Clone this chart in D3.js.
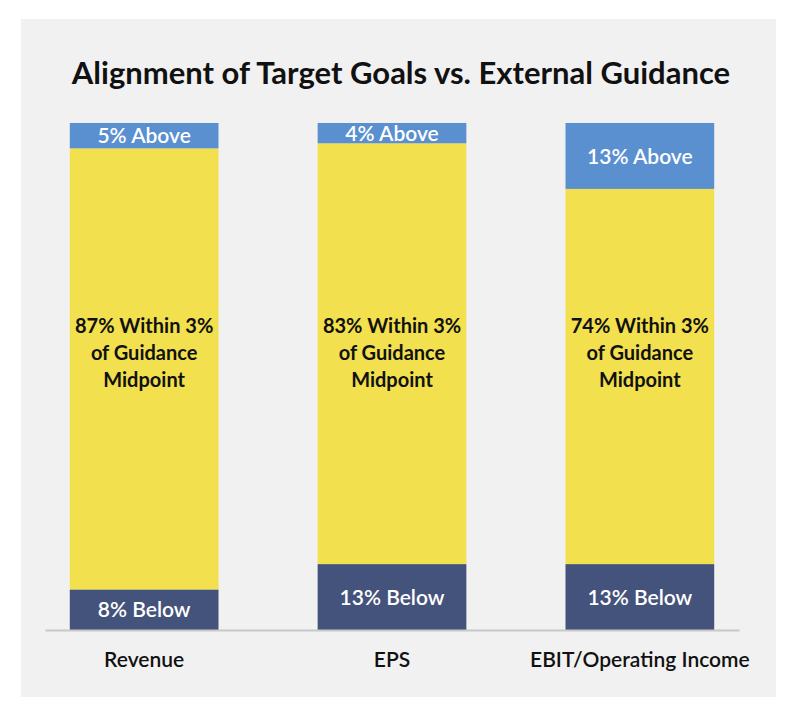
<!DOCTYPE html>
<html>
<head>
<meta charset="utf-8">
<script src="https://cdn.jsdelivr.net/npm/d3@7"></script>
<style>
  body { margin: 0; background: #ffffff; }
  svg { display: block; font-family: Lato, "Open Sans", sans-serif; }
</style>
</head>
<body>
<div id="chart-ctn"></div>
<script>
// Data
let categories = ["Revenue", "EPS", "EBIT/Operating Income"];
let belowValues = [8, 13, 13];
let withinValues = [87, 83, 74];
let aboveValues = [5, 4, 13];

let segmentNames = ["below", "within", "above"];
let segmentLabels = {
    below: (v) => [v + "% Below"],
    within: (v) => [v + "% Within 3%", "of Guidance", "Midpoint"],
    above: (v) => [v + "% Above"],
};

let width = 800;
let height = 717;

let colors = {
    below: "#44537b",
    within: "#f2e04e",
    above: "#5a8fd0",
};

let svg = d3
    .select("#chart-ctn")
    .append("svg")
    .attr("width", width)
    .attr("height", height);

// gray panel
svg.append("rect")
    .attr("x", 21)
    .attr("y", 19)
    .attr("width", 755)
    .attr("height", 678)
    .attr("fill", "#f1f1f1");

svg.append("text")
    .attr("x", 401)
    .attr("y", 84)
    .attr("text-anchor", "middle")
    .style("font-size", "31px")
    .style("font-weight", 700)
    .style("fill", "#111")
    .text("Alignment of Target Goals vs. External Guidance");

let data = categories.map((c, i) => ({
    name: c,
    below: belowValues[i],
    within: withinValues[i],
    above: aboveValues[i],
}));

let stacked = d3.stack().keys(segmentNames)(data);

let x = d3
    .scaleBand()
    .domain(categories)
    .range([45, 739])
    .paddingInner(0.4)
    .paddingOuter(0.1);

let y = d3.scaleLinear().domain([0, 100]).range([630, 123]);

let layer = svg
    .append("g")
    .selectAll("g")
    .data(stacked)
    .join("g")
    .attr("fill", (d) => colors[d.key]);

layer.selectAll("rect")
    .data((d) => d)
    .join("rect")
    .attr("x", (d) => x(d.data.name))
    .attr("y", (d) => y(d[1]))
    .attr("width", x.bandwidth())
    .attr("height", (d) => y(d[0]) - y(d[1]));

// labels inside segments
let midLabelAt = 54.7; // the middle labels sit at one common height
stacked.forEach((s) => {
    s.forEach((d) => {
        let value = d[1] - d[0];
        let lines = segmentLabels[s.key](value);
        let cx = x(d.data.name) + x.bandwidth() / 2;
        let isMid = s.key === "within";
        let cy = isMid ? y(midLabelAt) : (y(d[0]) + y(d[1])) / 2;
        let fs = isMid ? 20 : 21;
        let lh = 26.7;
        let t = svg
            .append("text")
            .attr("text-anchor", "middle")
            .style("font-size", fs + "px")
            .style("font-weight", isMid ? 700 : 600)
            .style("fill", isMid ? "#111" : "#ffffff");
        lines.forEach((l, i) => {
            t.append("tspan")
                .attr("x", cx)
                .attr("y", cy + (i - (lines.length - 1) / 2) * lh)
                .attr("dy", "0.36em")
                .text(l);
        });
    });
});

// axis
let axis = svg
    .append("g")
    .attr("transform", "translate(0,630)")
    .call(d3.axisBottom(x).tickSize(0).tickPadding(22));

axis.select(".domain").attr("stroke", "#c8c8c8").attr("stroke-width", 2);
axis.selectAll("text")
    .style("font-size", "21px")
    .style("font-family", "Lato, 'Open Sans', sans-serif")
    .style("font-weight", 600)
    .style("fill", "#111");
</script>
</body>
</html>
